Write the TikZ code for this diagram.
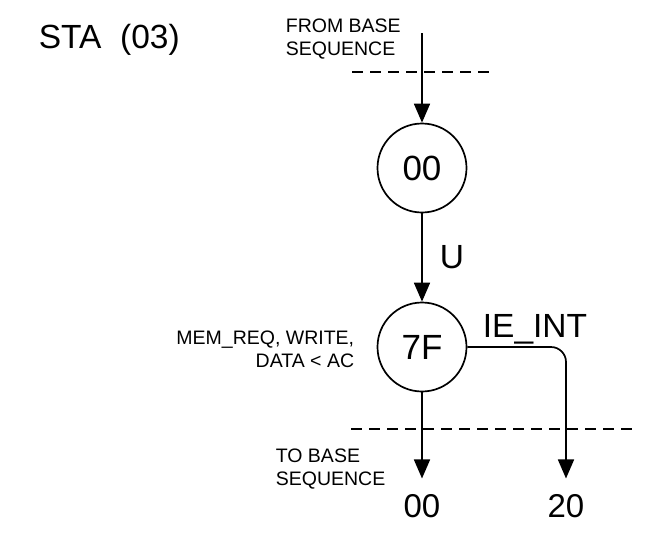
\documentclass[tikz,border=0pt]{standalone}
\usepackage{fontspec}
\setmainfont{Liberation Sans}
\usetikzlibrary{arrows.meta}
\begin{document}
\begin{tikzpicture}[x=1pt,y=-1pt,
  line width=1.7pt,
  state/.style={circle,draw,minimum size=89pt,inner sep=0pt,font=\fontsize{35}{35}\selectfont},
  arr/.style={-{Triangle[length=19pt,width=16pt]}},
  dash line/.style={line width=1.4pt,dash pattern=on 11pt off 7pt},
  small/.style={inner sep=0pt,font=\fontsize{19.5}{23}\selectfont},
  big/.style={inner sep=0pt,font=\fontsize{33.5}{33.5}\selectfont},
  target/.style={inner xsep=0pt,inner ysep=15pt,font=\fontsize{33}{33}\selectfont}]
\useasboundingbox (0,0) rectangle (654,539);
% title
\node[big,anchor=base west] (title) at (38,48) {STA\ \ (03)};
% labels
\node[small,anchor=north west,align=left] (from) at (285,18) {FROM BASE\\SEQUENCE};
\node[small,anchor=north east,align=right] (mem) at (355,330) {MEM\_REQ, WRITE,\\DATA < AC};
\node[small,anchor=north west,align=left] (to) at (275,448) {TO BASE\\SEQUENCE};
% dashed lines
\coordinate (d1a) at (352,72);
\coordinate (d1b) at (494,72);
\coordinate (d2a) at (351,429);
\coordinate (d2b) at (637,429);
\draw[dash line] (d1a) -- (d1b);
\draw[dash line] (d2a) -- (d2b);
% states
\node[state] (s00) at (422,168) {00};
\node[state] (s7F) at (422,347) {7F};
\node[target] (b00) at (422,506) {00};
\node[target] (b20) at (566,506) {20};
\coordinate (start) at (422,33);
% connectors
\draw[arr] (start) -- (s00);
\draw[arr] (s00) -- node[big,right=17pt,pos=0.5] (U) {U} (s7F);
\draw[arr] (s7F) -- (b00.north);
\draw[arr,rounded corners=15pt] (s7F.east) -| (b20.north);
\node[big,anchor=base west] (ie) at (482,337) {IE\_INT};
\end{tikzpicture}
\end{document}
